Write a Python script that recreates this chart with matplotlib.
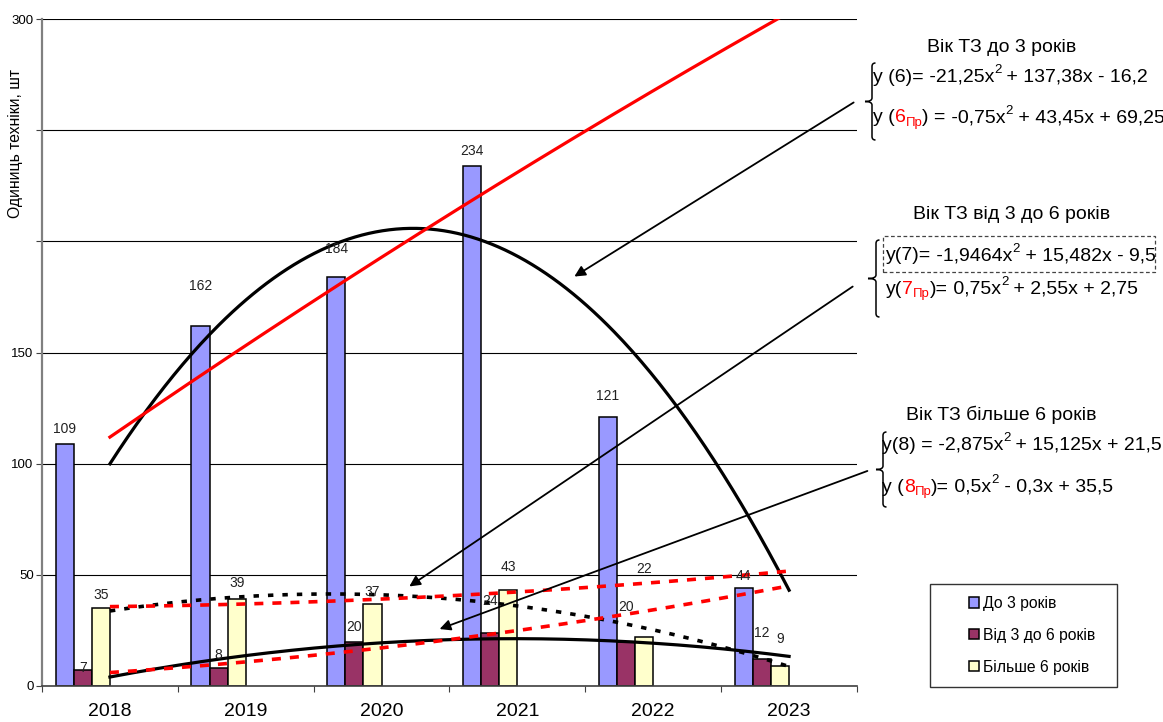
import numpy as np
import matplotlib
matplotlib.use("Agg")
import matplotlib.pyplot as plt
from matplotlib.path import Path
from matplotlib.patches import PathPatch, Rectangle

plt.rcParams['font.family'] = ['Liberation Sans', 'DejaVu Sans']

W, H = 1163, 722

years = ['2018', '2019', '2020', '2021', '2022', '2023']
do_3 = [109, 162, 184, 234, 121, 44]
vid_3_do_6 = [7, 8, 20, 24, 20, 12]
bilshe_6 = [35, 39, 37, 43, 22, 9]

# коефіцієнти поліноміальних трендів (x = 1..6)
coef_6 = [-21.25, 137.38, -16.2]
coef_6pr = [-0.75, 43.45, 69.25]
coef_7 = [-1.9464, 15.482, -9.5]
coef_7pr = [0.75, 2.55, 2.75]
coef_8 = [-2.875, 15.125, 21.5]
coef_8pr = [0.5, -0.3, 35.5]

# зсув підписів над стовпчиками, px
off_do_3 = [15, 40, 28, 15, 21, 12]
off_vid = [2, 13, 15, 32, 35, 26]
off_bil = [13, 16, 12, 23, 68, 27]


def px(x, y):
  return x / W, 1 - y / H


fig = plt.figure(figsize=(W / 100, H / 100), dpi=100)
ax = fig.add_axes([42 / W, 1 - 686 / H, (857 - 42) / W, (686 - 19) / H])

x = np.arange(len(years))
w = 1 / 7.5
series = [
  (do_3, '#9999FF', 'До 3 років', -2.5, off_do_3),
  (vid_3_do_6, '#993366', 'Від 3 до 6 років', -1.5, off_vid),
  (bilshe_6, '#FFFFCC', 'Більше 6 років', -0.5, off_bil),
]
handles = []
for vals, col, name, k, offs in series:
  b = ax.bar(x + k * w, vals, w, color=col, edgecolor='black', lw=1.1, label=name, zorder=2)
  handles.append(b)
  for xi, v, o in zip(x, vals, offs):
    ax.annotate(str(v), (xi + k * w, v), xytext=(0, o * 0.72), textcoords='offset points',
                ha='center', va='center', fontsize=10, color='#222222', zorder=5)

xs = np.linspace(1, 6, 300)
ax.plot(xs - 1, np.polyval(coef_6, xs), color='black', lw=2.3, zorder=4)
ax.plot(xs - 1, np.polyval(coef_6pr, xs), color='red', lw=2.3, zorder=4)
ax.plot(xs - 1, np.polyval(coef_7, xs), color='black', lw=2.3, zorder=4)
ax.plot(xs - 1, np.polyval(coef_8, xs), color='black', lw=2.6, dashes=(1.5, 2.5), zorder=4)
ax.plot(xs - 1, np.polyval(coef_7pr, xs), color='red', lw=2.6, dashes=(2.5, 2.5), zorder=4)
ax.plot(xs - 1, np.polyval(coef_8pr, xs), color='red', lw=2.6, dashes=(2.5, 2.5), zorder=4)

ax.set_xlim(-0.5, 5.5)
ax.set_ylim(0, 300)
ax.set_xticks(np.arange(-0.5, 6, 1))
ax.set_xticklabels([])
ax.set_xticks(x, minor=True)
ax.set_xticklabels(years, minor=True, fontsize=14)
ax.tick_params(axis='x', which='major', length=4, color='#404040')
ax.tick_params(axis='x', which='minor', length=0, pad=12)
ax.set_yticks(np.arange(0, 301, 50))
ax.set_yticklabels(['0', '50', '100', '150', '', '', '300'], fontsize=9.5)
ax.tick_params(axis='y', length=4, color='#404040', pad=2)
ax.yaxis.grid(True, color='black', lw=0.8)
ax.set_axisbelow(True)
for s in ['top', 'right']:
  ax.spines[s].set_visible(False)
ax.spines['left'].set_color('#808080')
ax.spines['left'].set_linewidth(1.6)
ax.spines['bottom'].set_color('#404040')
ax.spines['bottom'].set_linewidth(1.2)

fig.text(*px(16, 143), 'Одиниць техніки, шт', rotation=90, ha='center', va='center', fontsize=11.3)

renderer = fig.canvas.get_renderer()

FS = 14
FS_SMALL = 9.5


def fmt(c):
  return f"{abs(c):g}".replace('.', ',')


def eq_parts(pre, num, coef, sep):
  a, b, c = coef
  parts = []
  if num is None:
    parts.append((pre, 'black', FS, 0))
  else:
    parts.append((pre[0], 'black', FS, 0))
    parts.append((num, 'red', FS, 0))
    parts.append(('Пр', 'red', FS_SMALL, -5))
    parts.append((pre[1], 'black', FS, 0))
  parts.append((f"{sep}{'-' if a < 0 else ''}{fmt(a)}x", 'black', FS, 0))
  parts.append(('2', 'black', FS_SMALL, 7))
  parts.append((f" {'-' if b < 0 else '+'} {fmt(b)}x {'-' if c < 0 else '+'} {fmt(c)}", 'black', FS, 0))
  return parts


def rich(x0, yc, parts):
  cx = x0
  for txt, col, size, dy in parts:
    t = fig.text(*px(cx, yc - dy), txt, color=col, fontsize=size, ha='left', va='center')
    cx += t.get_window_extent(renderer).width
  return cx


def brace(xs_, top, bot, tip, wd=7):
  mid = (top + bot) / 2
  pts = [(xs_ + wd / 2, top), (xs_, top), (xs_, top + wd / 2),
         (xs_, mid - wd / 2), (xs_, mid), (tip, mid),
         (xs_, mid), (xs_, mid + wd / 2),
         (xs_, bot - wd / 2), (xs_, bot), (xs_ + wd / 2, bot)]
  codes = [Path.MOVETO, Path.CURVE3, Path.CURVE3,
           Path.LINETO, Path.CURVE3, Path.CURVE3,
           Path.CURVE3, Path.CURVE3,
           Path.LINETO, Path.CURVE3, Path.CURVE3]
  verts = [px(a, b) for a, b in pts]
  fig.patches.append(PathPatch(Path(verts, codes), fill=False, lw=1.1, color='black',
                               transform=fig.transFigure))


def arrow(x1, y1, x2, y2):
  fig.add_artist(matplotlib.patches.FancyArrowPatch(
    px(x1, y1), px(x2, y2), transform=fig.transFigure, arrowstyle='-|>',
    mutation_scale=16, lw=1.3, color='black'))


fig.text(*px(1002, 48), 'Вік ТЗ до 3 років', ha='center', va='center', fontsize=FS)
rich(873, 77, eq_parts('y (6)=', None, coef_6, ' '))
rich(873, 118, eq_parts(('y (', ') ='), '6', coef_6pr, ' '))
brace(872, 63, 140, 865)

fig.text(*px(1012, 215), 'Вік ТЗ від 3 до 6 років', ha='center', va='center', fontsize=FS)
rich(886, 256, eq_parts('y(7)=', None, coef_7, ' '))
rich(886, 289, eq_parts(('y(', ')='), '7', coef_7pr, ' '))
fig.patches.append(Rectangle(px(883, 272), (1155 - 883) / W, 36 / H, fill=False, lw=0.9,
                             ls=(0, (3, 2)), ec='#444444', transform=fig.transFigure))
brace(876, 240, 317, 868)

fig.text(*px(1001, 415), 'Вік ТЗ більше 6 років', ha='center', va='center', fontsize=FS)
rich(882, 445, eq_parts('y(8) =', None, coef_8, ' '))
rich(882, 487, eq_parts(('y (', ')='), '8', coef_8pr, ' '))
brace(883, 432, 507, 876)

arrow(856, 101, 572, 278)
arrow(855, 285, 407, 588)
arrow(870, 470, 437, 630)

# легенда
fig.patches.append(Rectangle(px(930, 687), 187 / W, 103 / H, fill=False, lw=1.0,
                             ec='#333333', transform=fig.transFigure))
fig.legend(handles=handles, loc='upper left', bbox_to_anchor=px(969, 596), frameon=False,
           fontsize=11.3, handlelength=0.62, handleheight=0.62, handletextpad=0.25,
           labelspacing=1.07, borderpad=0, borderaxespad=0)

fig.savefig('out.png', dpi=100)
